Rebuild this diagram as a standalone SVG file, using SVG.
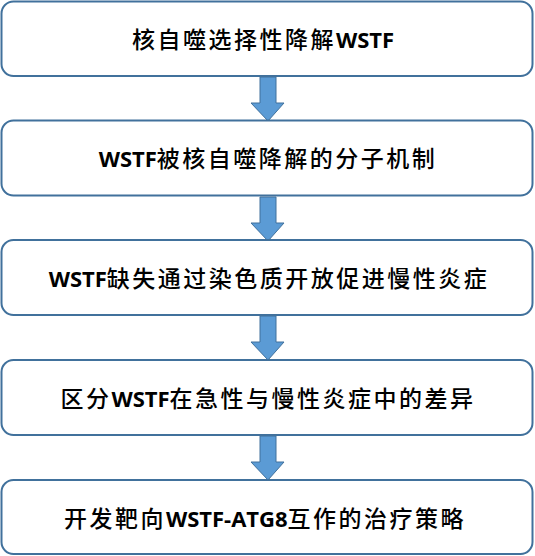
<svg xmlns="http://www.w3.org/2000/svg" width="535" height="556" viewBox="0 0 535 556">
<style>
.box{fill:#ffffff;stroke:#41719C;stroke-width:2}
.arr{fill:#5B9BD5;stroke:#41719C;stroke-width:1}
.t{font-family:"Noto Sans CJK SC","Noto Sans",sans-serif;font-size:23px;font-weight:500;fill:#000;text-anchor:middle}
.c{letter-spacing:2.5px}
.l{font-family:"Open Sans","Liberation Sans",sans-serif;font-weight:bold;font-size:22px;letter-spacing:0}
</style>
<rect width="535" height="556" fill="#ffffff"/>
<g id="connectors">
<path class="arr" d="M260,77 H276 V103 H284 L268,121 L251,103 H260 Z"/>
<path class="arr" d="M260,197 H276 V223 H284 L268,241 L251,223 H260 Z"/>
<path class="arr" d="M260,316 H276 V342 H284 L268,360 L251,342 H260 Z"/>
<path class="arr" d="M260,436 H276 V462 H284 L268,480 L251,462 H260 Z"/>
</g>
<g id="node1">
<rect class="box" x="1.5" y="1.5" width="531" height="74.5" rx="12"/>
<text class="t" x="263" y="48"><tspan class="c">核自噬选择性降解</tspan><tspan class="l">WSTF</tspan></text>
</g>
<g id="node2">
<rect class="box" x="1.5" y="120.5" width="531" height="75" rx="12"/>
<text class="t" x="268" y="167"><tspan class="l">WSTF</tspan><tspan class="c">被核自噬降解的分子机制</tspan></text>
</g>
<g id="node3">
<rect class="box" x="1.5" y="240" width="531" height="75" rx="12"/>
<text class="t" x="269" y="287"><tspan class="l">WSTF</tspan><tspan class="c">缺失通过染色质开放促进慢性炎症</tspan></text>
</g>
<g id="node4">
<rect class="box" x="1.5" y="360" width="531" height="75" rx="12"/>
<text class="t" x="268" y="407"><tspan class="c">区分</tspan><tspan class="l">WSTF</tspan><tspan class="c">在急性与慢性炎症中的差异</tspan></text>
</g>
<g id="node5">
<rect class="box" x="1.5" y="480" width="531" height="74" rx="12"/>
<text class="t" x="265" y="527"><tspan class="c">开发靶向</tspan><tspan class="l">WSTF-ATG8</tspan><tspan class="c">互作的治疗策略</tspan></text>
</g>
</svg>
